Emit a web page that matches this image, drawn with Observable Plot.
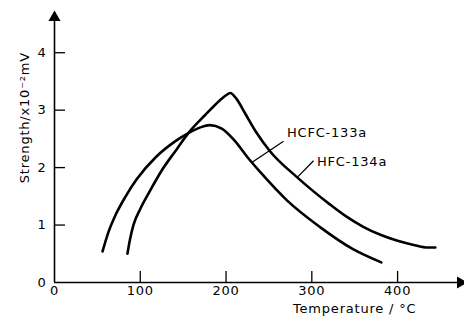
<!DOCTYPE html>
<html><head><meta charset="utf-8">
<script src="https://cdn.jsdelivr.net/npm/d3@7"></script>
<script src="https://cdn.jsdelivr.net/npm/@observablehq/plot@0.6"></script>
<style>html,body{margin:0;padding:0;background:#fff}svg{display:block}svg text{letter-spacing:0.8px}</style>
</head><body><div id="chart"></div>
<script>
// HCFC-133a (lower peak)
const hcfcTemp = [56, 63, 72, 83, 96, 118, 141, 156, 170, 181, 195, 210, 225, 240, 271, 310, 348, 381];
const hcfcStrength = [0.54, 0.88, 1.20, 1.50, 1.80, 2.18, 2.46, 2.60, 2.70, 2.74, 2.68, 2.47, 2.18, 1.92, 1.43, 0.96, 0.58, 0.35];
// HFC-134a (higher peak)
const hfcTemp = [85, 88, 92, 100, 110, 125, 143, 156, 176, 192, 200, 205, 212, 222, 235, 251, 283, 321, 340, 360, 380, 399, 420, 435, 444];
const hfcStrength = [0.50, 0.75, 1.00, 1.28, 1.56, 1.95, 2.33, 2.60, 2.92, 3.16, 3.26, 3.30, 3.20, 2.95, 2.62, 2.29, 1.83, 1.36, 1.15, 0.97, 0.83, 0.73, 0.65, 0.61, 0.61];

const seriesNames = ["HCFC-133a", "HFC-134a"];
const xTicks = [0, 100, 200, 300, 400];
const yTicks = [0, 1, 2, 3, 4];
const xTickMarks = [100, 200, 300, 400];
const yTickMarks = [1, 2, 3, 4];
const xMax = 478;
const yMax = 4.7;
const xLabel = "Temperature / °C";
const yLabel = "Strength/x10⁻²mV";

// annotation anchors (data units)
const labelTemp = [271, 306];
const labelStrength = [2.60, 2.10];
const leaderTemp1 = [267, 302];
const leaderStrength1 = [2.46, 2.12];
const leaderTemp2 = [230, 283];
const leaderStrength2 = [2.09, 1.83];

const W = 464, H = 322, mL = 54, mR = 0, mT = 12, mB = 40;
const tickPx = 11;
const tickLenX = tickPx * xMax / (W - mL - mR);   // tick length along x in data units
const tickLenY = tickPx * yMax / (H - mT - mB);   // tick length along y in data units

const hcfc = hcfcTemp.map((t, i) => ({t, s: hcfcStrength[i]}));
const hfc = hfcTemp.map((t, i) => ({t, s: hfcStrength[i]}));
const labels = seriesNames.map((n, i) => ({n, t: labelTemp[i], s: labelStrength[i],
  t1: leaderTemp1[i], s1: leaderStrength1[i], t2: leaderTemp2[i], s2: leaderStrength2[i]}));

const chart = Plot.plot({
  width: W, height: H,
  marginLeft: mL, marginRight: mR, marginTop: mT, marginBottom: mB,
  x: {domain: [0, xMax]},
  y: {domain: [0, yMax]},
  style: {fontFamily: "DejaVu Sans", fontSize: "13px", color: "black", background: "white"},
  marks: [
    Plot.axisX({ticks: xTicks, tickSize: 0, tickPadding: 3, tickFormat: d3.format("d"), label: null}),
    Plot.axisY({ticks: yTicks, tickSize: 0, tickPadding: 8, tickFormat: d3.format("d"), label: null}),
    Plot.ruleX(xTickMarks, {x: d => d, y1: 0, y2: tickLenY, stroke: "black", strokeWidth: 1.3}),
    Plot.ruleY(yTickMarks, {y: d => d, x1: 0, x2: tickLenX, stroke: "black", strokeWidth: 1.3}),
    Plot.ruleY([0], {x1: 0, x2: xMax, stroke: "black", strokeWidth: 1.6}),
    Plot.ruleX([0], {y1: 0, y2: yMax, stroke: "black", strokeWidth: 1.6}),
    Plot.dot([xMax], {x: d => d, y: () => 0, symbol: "triangle", rotate: 90, r: 4.5, fill: "black", stroke: null, dx: -4}),
    Plot.dot([yMax], {x: () => 0, y: d => d, symbol: "triangle", r: 4.5, fill: "black", stroke: null, dy: 5}),
    Plot.line(hcfc, {x: "t", y: "s", curve: "monotone-x", stroke: "black", strokeWidth: 2.6}),
    Plot.line(hfc, {x: "t", y: "s", curve: "monotone-x", stroke: "black", strokeWidth: 2.6}),
    Plot.link(labels, {x1: "t1", y1: "s1", x2: "t2", y2: "s2", stroke: "black", strokeWidth: 1.3}),
    Plot.text(labels, {x: "t", y: "s", text: "n", textAnchor: "start", fontSize: 13, fill: "black"}),
    Plot.text([{n: yLabel, s: 2.87}], {y: "s", text: "n", frameAnchor: "left", textAnchor: "middle", lineAnchor: "middle", rotate: -90, dx: -30, fontSize: 13, fill: "black"}),
    Plot.text([{n: xLabel, t: 350}], {x: "t", text: "n", frameAnchor: "bottom", textAnchor: "middle", lineAnchor: "middle", dy: 26, fontSize: 13, fill: "black"})
  ]
});
document.getElementById("chart").appendChild(chart);
</script>
</body></html>
